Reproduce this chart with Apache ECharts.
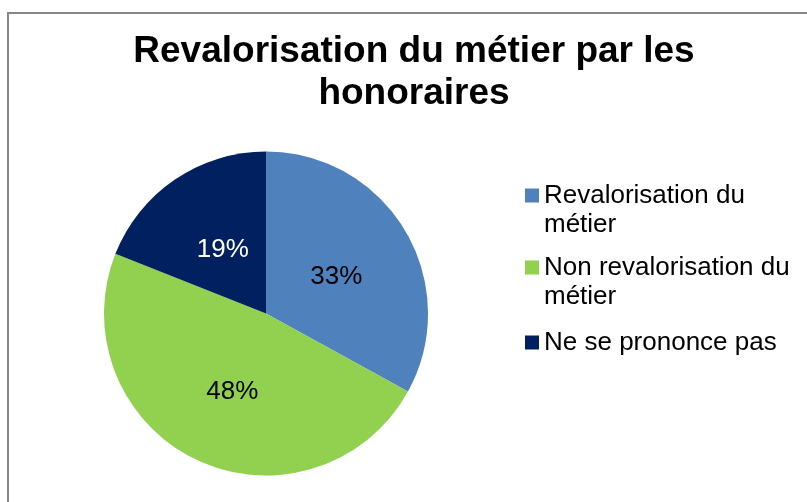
<!DOCTYPE html>
<html>
<head>
<meta charset="utf-8">
<title>Revalorisation du métier par les honoraires</title>
<script src="https://cdn.jsdelivr.net/npm/echarts@6/dist/echarts.min.js"></script>
<style>
  html, body { margin: 0; padding: 0; background: #fff; }
  #chart { width: 807px; height: 502px; }
</style>
</head>
<body>
<div id="chart"></div>
<script>
// data
const categories = ['Revalorisation du métier', 'Non revalorisation du métier', 'Ne se prononce pas']
const legendLabels = ['Revalorisation du\nmétier', 'Non revalorisation du\nmétier', 'Ne se prononce pas']
const values = [33, 48, 19]

// styling
const colors = ['#4F81BD', '#92D050', '#002060']
const labelColors = ['#000', '#000', '#fff']
const labelOffsets = [[-2, 6], [2, 2], [4, 6]]

const FONT = '"Liberation Sans", Arial, sans-serif'

// square icon sitting on the first text line of a two-line legend entry
const topSquare = 'path://M0,0M0,7.5L14,7.5L14,21.5L0,21.5ZM0,58'

const chart = echarts.init(document.getElementById('chart'), null, { renderer: 'canvas' })

const labelFor = (name) => legendLabels[categories.indexOf(name)]

chart.setOption({
  animation: false,
  backgroundColor: '#fff',
  title: {
    text: 'Revalorisation du métier par les\nhonoraires',
    left: 414,
    top: 31,
    padding: 0,
    textAlign: 'center',
    textStyle: {
      fontFamily: FONT,
      fontWeight: 'bold',
      fontSize: 37,
      lineHeight: 42,
      color: '#000',
    },
  },
  legend: [
    {
      orient: 'vertical',
      left: 525,
      top: 181,
      padding: 0,
      itemWidth: 14,
      itemHeight: 58,
      itemGap: 14,
      data: categories.slice(0, 2).map((n) => ({ name: n, icon: topSquare })),
      formatter: labelFor,
      itemStyle: { borderWidth: 0 },
      textStyle: { fontFamily: FONT, fontSize: 26, lineHeight: 29, color: '#000' },
      selectedMode: false,
    },
    {
      orient: 'vertical',
      left: 525,
      top: 328,
      padding: 0,
      itemWidth: 14,
      itemHeight: 14,
      icon: 'rect',
      data: categories.slice(2),
      formatter: labelFor,
      itemStyle: { borderWidth: 0 },
      textStyle: { fontFamily: FONT, fontSize: 26, lineHeight: 29, color: '#000' },
      selectedMode: false,
    },
  ],
  graphic: [
    {
      type: 'rect',
      z: -10,
      silent: true,
      shape: { x: 8, y: 13, width: 900, height: 600 },
      style: { fill: 'none', stroke: '#878787', lineWidth: 2 },
    },
  ],
  series: [
    {
      type: 'pie',
      center: [266, 313.5],
      radius: 162,
      startAngle: 90,
      clockwise: true,
      percentPrecision: 0,
      itemStyle: { borderWidth: 0 },
      label: {
        show: true,
        position: 'inside',
        formatter: '{d}%',
        fontFamily: FONT,
        fontSize: 26,
      },
      labelLine: { show: false },
      emphasis: { disabled: true },
      data: categories.map((name, i) => ({
        name,
        value: values[i],
        itemStyle: { color: colors[i] },
        label: { color: labelColors[i], offset: labelOffsets[i] },
      })),
    },
  ],
})
</script>
</body>
</html>
